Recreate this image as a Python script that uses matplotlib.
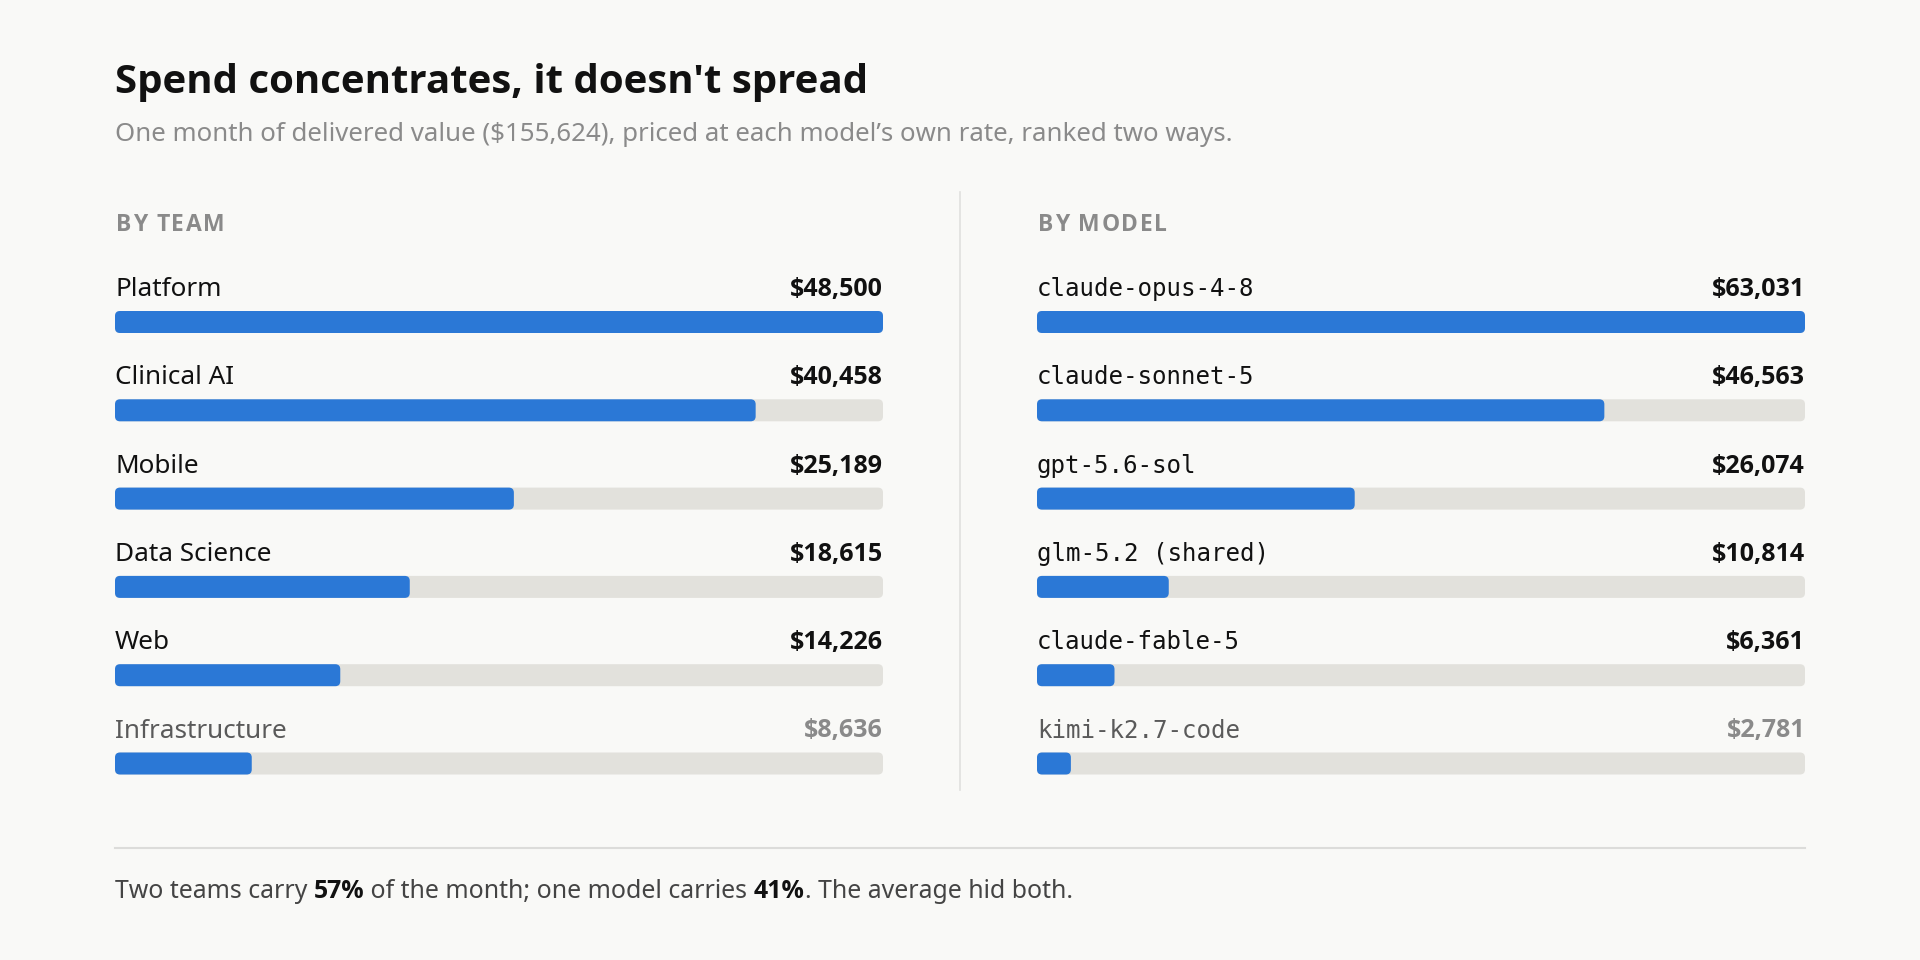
import matplotlib
matplotlib.use("Agg")
import matplotlib.pyplot as plt
from matplotlib import font_manager
from matplotlib.font_manager import FontProperties
from matplotlib.patches import FancyBboxPatch
from matplotlib.lines import Line2D

# data
teams = ["Platform", "Clinical AI", "Mobile", "Data Science", "Web", "Infrastructure"]
team_spend = [48500, 40458, 25189, 18615, 14226, 8636]
models = ["claude-opus-4-8", "claude-sonnet-5", "gpt-5.6-sol", "glm-5.2 (shared)",
          "claude-fable-5", "kimi-k2.7-code"]
model_spend = [63031, 46563, 26074, 10814, 6361, 2781]

title = "Spend concentrates, it doesn't spread"
subtitle = "One month of delivered value ($155,624), priced at each model\u2019s own rate, ranked two ways."
footer_parts = [("Two teams carry ", False), ("57%", True), (" of the month; one model carries ", False),
                ("41%", True), (". The average hid both.", False)]

BG = "#f9f9f7"
BLUE = "#2b78d6"
TRACK = "#e2e1dc"


def find_font(names, bold):
    # pick an installed file so bold really is bold
    for name in names:
        for f in font_manager.fontManager.ttflist:
            if f.name == name and f.style == "normal":
                w = f.weight if isinstance(f.weight, int) else 400
                if (bold and w >= 600) or (not bold and w == 400):
                    return f.fname
    return None


reg_file = find_font(["Noto Sans", "Open Sans"], False)
bold_file = find_font(["Noto Sans", "Open Sans"], True)


def sans(size, bold=False):
    f = bold_file if bold else reg_file
    if f:
        return FontProperties(fname=f, size=size)
    return FontProperties(family="DejaVu Sans", size=size, weight="bold" if bold else "normal")


def mono(size):
    return FontProperties(family="DejaVu Sans Mono", size=size)


W, H = 1920, 960
fig = plt.figure(figsize=(W / 100, H / 100), dpi=100, facecolor=BG)
renderer = fig.canvas.get_renderer()


def fx(px):
    return px / W


def fy(py):
    return 1 - py / H


fig.text(fx(115), fy(93), title, fontproperties=sans(29, True), color="#111111", va="baseline")
fig.text(fx(115), fy(141), subtitle, fontproperties=sans(18.6), color="#8a8a8a", va="baseline")


def spaced_text(x, y, s, spacing, **kw):
    for ch in s:
        t = fig.text(fx(x), fy(y), ch, va="baseline", **kw)
        x += t.get_window_extent(renderer).width + spacing


ROW = 88.3
BAR_H = 22
X0_LEFT, X0_RIGHT, BAR_W = 115, 1037, 768
TOP_BAR = 322  # centre of first bar, px


def panel(x0, header, labels, values, is_mono):
    spaced_text(x0 + 1, 231, header, 1.6, fontproperties=sans(16.5, True), color="#8a8a8a")
    n = len(values)
    top = TOP_BAR - ROW * 0.7
    height = ROW * (n + 0.2)
    ax = fig.add_axes([fx(x0), fy(top + height), BAR_W / W, height / H])
    ax.set_facecolor("none")
    vmax = max(values)
    ax.set_xlim(0, vmax)
    ax.set_ylim(n - 0.5, -0.7)
    ax.axis("off")
    rs = 5 * vmax / BAR_W
    aspect = (1 / ROW) / (vmax / BAR_W)
    h = BAR_H / ROW
    for i, (lab, v) in enumerate(zip(labels, values)):
        last = i == n - 1
        for width, col in ((vmax, TRACK), (v, BLUE)):
            ax.add_patch(FancyBboxPatch((0, i - h / 2), width, h,
                                        boxstyle=f"round,pad=0,rounding_size={rs}",
                                        mutation_aspect=aspect, fc=col, ec="none"))
        ly = i - (TOP_BAR - 296) / ROW
        ax.text(0, ly, lab, fontproperties=mono(17.4) if is_mono else sans(18.8),
                color="#5a5a5a" if last else "#111111", va="baseline", ha="left")
        ax.text(vmax, ly, f"${v:,}", fontproperties=sans(18, True),
                color="#8a8a8a" if last else "#111111", va="baseline", ha="right")


panel(X0_LEFT, "BY TEAM", teams, team_spend, False)
panel(X0_RIGHT, "BY MODEL", models, model_spend, True)

# divider and rule
fig.add_artist(Line2D([fx(960), fx(960)], [fy(192), fy(790)], color="#e0e0de", lw=1.2))
fig.add_artist(Line2D([fx(115), fx(1805)], [fy(848), fy(848)], color="#dcdcda", lw=1.5))

# footer with bold emphasis
x = 115
for s, bold in footer_parts:
    t = fig.text(fx(x), fy(898), s, fontproperties=sans(17.9, bold), va="baseline",
                 color="#111111" if bold else "#444444")
    x += t.get_window_extent(renderer).width

fig.savefig("out.png", dpi=100, facecolor=BG)
